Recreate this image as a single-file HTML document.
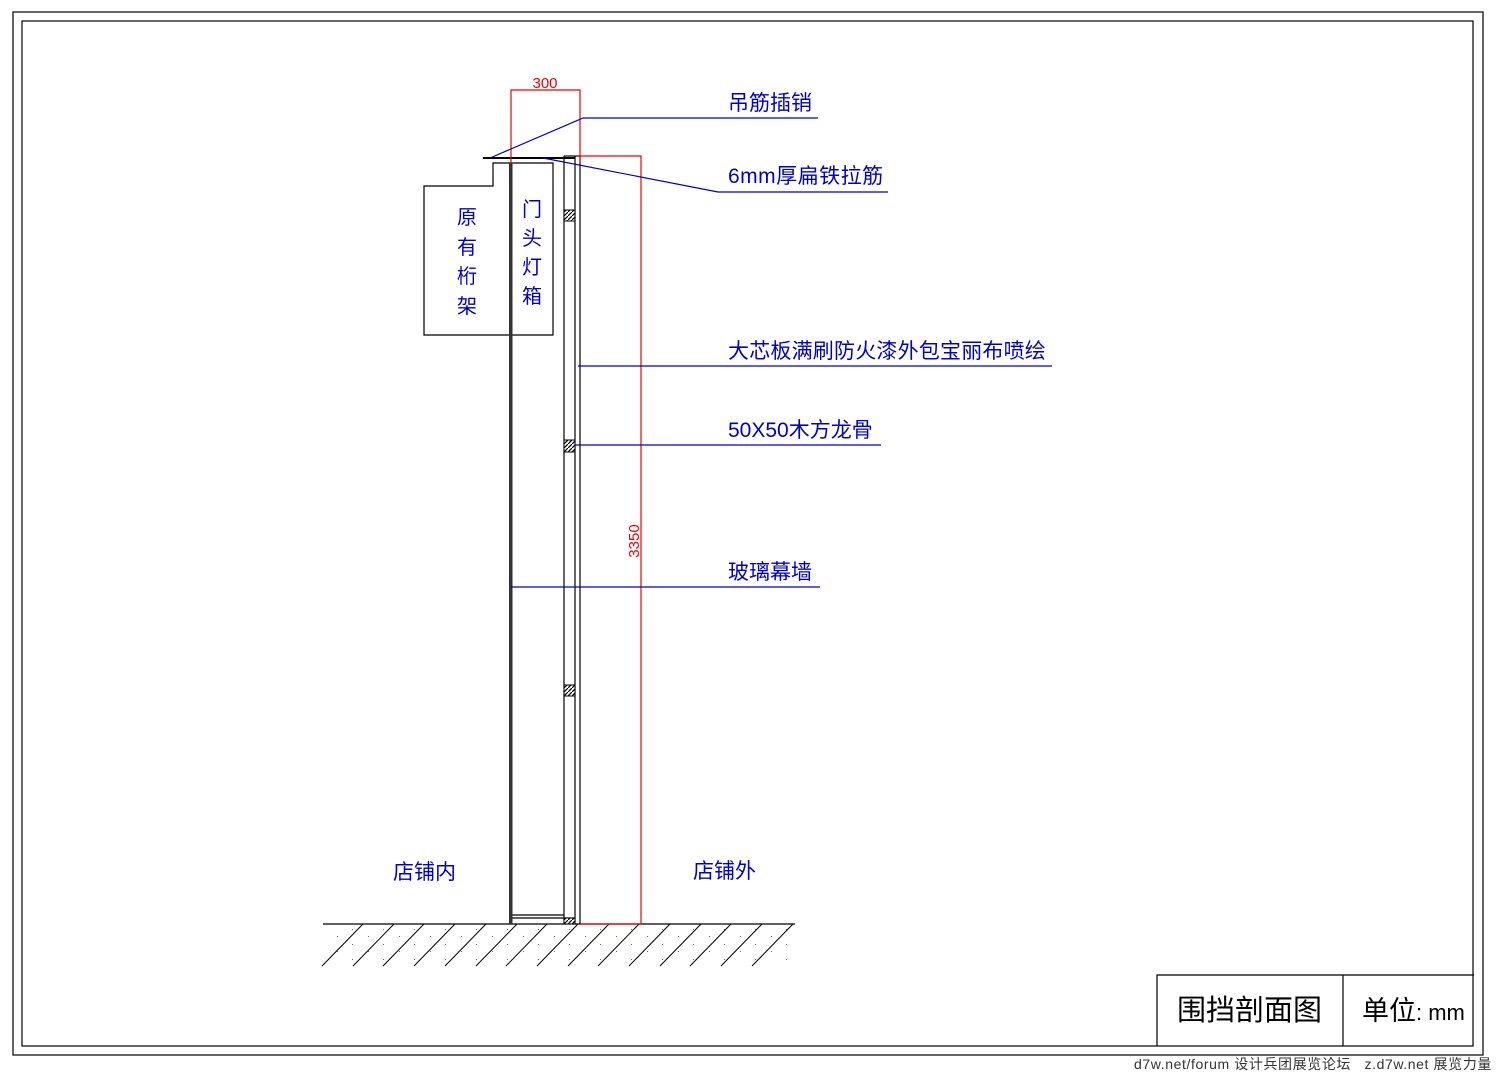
<!DOCTYPE html>
<html><head><meta charset="utf-8"><style>
body{margin:0;background:#fff;}
svg text{font-family:"Liberation Sans","Noto Sans CJK SC",sans-serif;}
</style></head><body>
<svg width="1500" height="1076" viewBox="0 0 1500 1076" xmlns="http://www.w3.org/2000/svg">
<defs>
<pattern id="h" width="4" height="4" patternUnits="userSpaceOnUse"><rect width="4" height="4" fill="#fff"/><path d="M0 4L4 0" stroke="#000" stroke-width="1.2"/></pattern>
<pattern id="d" x="0" y="929" width="31" height="15" patternUnits="userSpaceOnUse"><rect x="27" y="7" width="1" height="1" fill="#666"/><rect x="11" y="0" width="1" height="1" fill="#666"/></pattern>
</defs>
<rect x="13" y="12" width="1470" height="1043" fill="none" stroke="#000" stroke-width="1.2"/>
<rect x="22" y="21" width="1451" height="1025" fill="none" stroke="#000" stroke-width="1.2"/>
<!-- title block -->
<path d="M1157 1046V975H1474M1343 975V1046" fill="none" stroke="#000" stroke-width="1.2"/>
<text x="1177" y="1020" font-size="29" fill="#000">围挡剖面图</text>
<text x="1362" y="1020" font-size="27" fill="#000">单位<tspan font-size="22">: mm</tspan></text>
<text x="1134" y="1069" font-size="14" fill="#333" letter-spacing="0.6">d7w.net/forum 设计兵团展览论坛 &#160; z.d7w.net 展览力量</text>

<rect x="324" y="926" width="470" height="40" fill="url(#d)"/>
<g fill="none" stroke="#000" stroke-width="1.2">
<!-- truss + lightbox -->
<path d="M424 186H493V163H553V335H424Z"/>
<line x1="483" y1="158" x2="575" y2="158" stroke-width="2"/>
<!-- wall frame -->
<line x1="564" y1="156" x2="564" y2="924"/>
<line x1="575" y1="156" x2="575" y2="924"/>
<line x1="580" y1="156" x2="580" y2="924"/>
<line x1="564" y1="156" x2="580" y2="156"/>
<line x1="511" y1="918" x2="575" y2="918"/>
<line x1="511" y1="915" x2="564" y2="915"/>
<!-- ground -->
<line x1="323" y1="924" x2="795" y2="924"/>
<g stroke-width="1">
<line x1="322" y1="966" x2="363" y2="924"/><line x1="353" y1="966" x2="394" y2="924"/><line x1="383" y1="966" x2="424" y2="924"/><line x1="414" y1="966" x2="455" y2="924"/><line x1="445" y1="966" x2="486" y2="924"/><line x1="476" y1="966" x2="517" y2="924"/><line x1="506" y1="966" x2="547" y2="924"/><line x1="537" y1="966" x2="578" y2="924"/><line x1="568" y1="966" x2="609" y2="924"/><line x1="598" y1="966" x2="639" y2="924"/><line x1="629" y1="966" x2="670" y2="924"/><line x1="660" y1="966" x2="701" y2="924"/><line x1="690" y1="966" x2="731" y2="924"/><line x1="721" y1="966" x2="762" y2="924"/><line x1="752" y1="966" x2="793" y2="924"/>
</g>
</g>
<rect x="509" y="163" width="3.5" height="761" fill="#333"/>
<rect x="564" y="210" width="11" height="11" fill="url(#h)" stroke="#000"/>
<rect x="564" y="440" width="11" height="12" fill="url(#h)" stroke="#000"/>
<rect x="564" y="685" width="11" height="11" fill="url(#h)" stroke="#000"/>
<rect x="564" y="918" width="11" height="6" fill="url(#h)" stroke="#000"/>

<!-- red dims -->
<g fill="none" stroke="#e00" stroke-width="1.2">
<path d="M511 163V90H580V163"/>
<path d="M580 156H641V924H580"/>
</g>
<text x="545" y="88" font-size="15" fill="#e00" text-anchor="middle" font-family="Liberation Serif">300</text>
<text transform="translate(639 541) rotate(-90)" font-size="15" fill="#e00" text-anchor="middle" font-family="Liberation Serif">3350</text>

<!-- blue leaders -->
<g fill="none" stroke="#00c" stroke-width="1.2">
<path d="M490 158L583 118H818"/>
<path d="M543 158L718 192H888"/>
<path d="M578 366H1052"/>
<path d="M575 445H881"/>
<path d="M511 587H820"/>
</g>
<g fill="#00c" font-size="21">
<text x="728" y="110">吊筋插销</text>
<text x="728" y="183" letter-spacing="0.5">6mm厚扁铁拉筋</text>
<text x="728" y="358" letter-spacing="0.2">大芯板满刷防火漆外包宝丽布喷绘</text>
<text x="728" y="437">50X50木方龙骨</text>
<text x="728" y="579">玻璃幕墙</text>
<text x="393" y="879">店铺内</text>
<text x="693" y="878">店铺外</text>
</g>
<g fill="#00c" font-size="20">
<text x="457" y="224">原</text><text x="457" y="254">有</text><text x="457" y="283">桁</text><text x="457" y="313">架</text>
<text x="522" y="216">门</text><text x="522" y="245">头</text><text x="522" y="274">灯</text><text x="522" y="303">箱</text>
</g>
</svg>
</body></html>
